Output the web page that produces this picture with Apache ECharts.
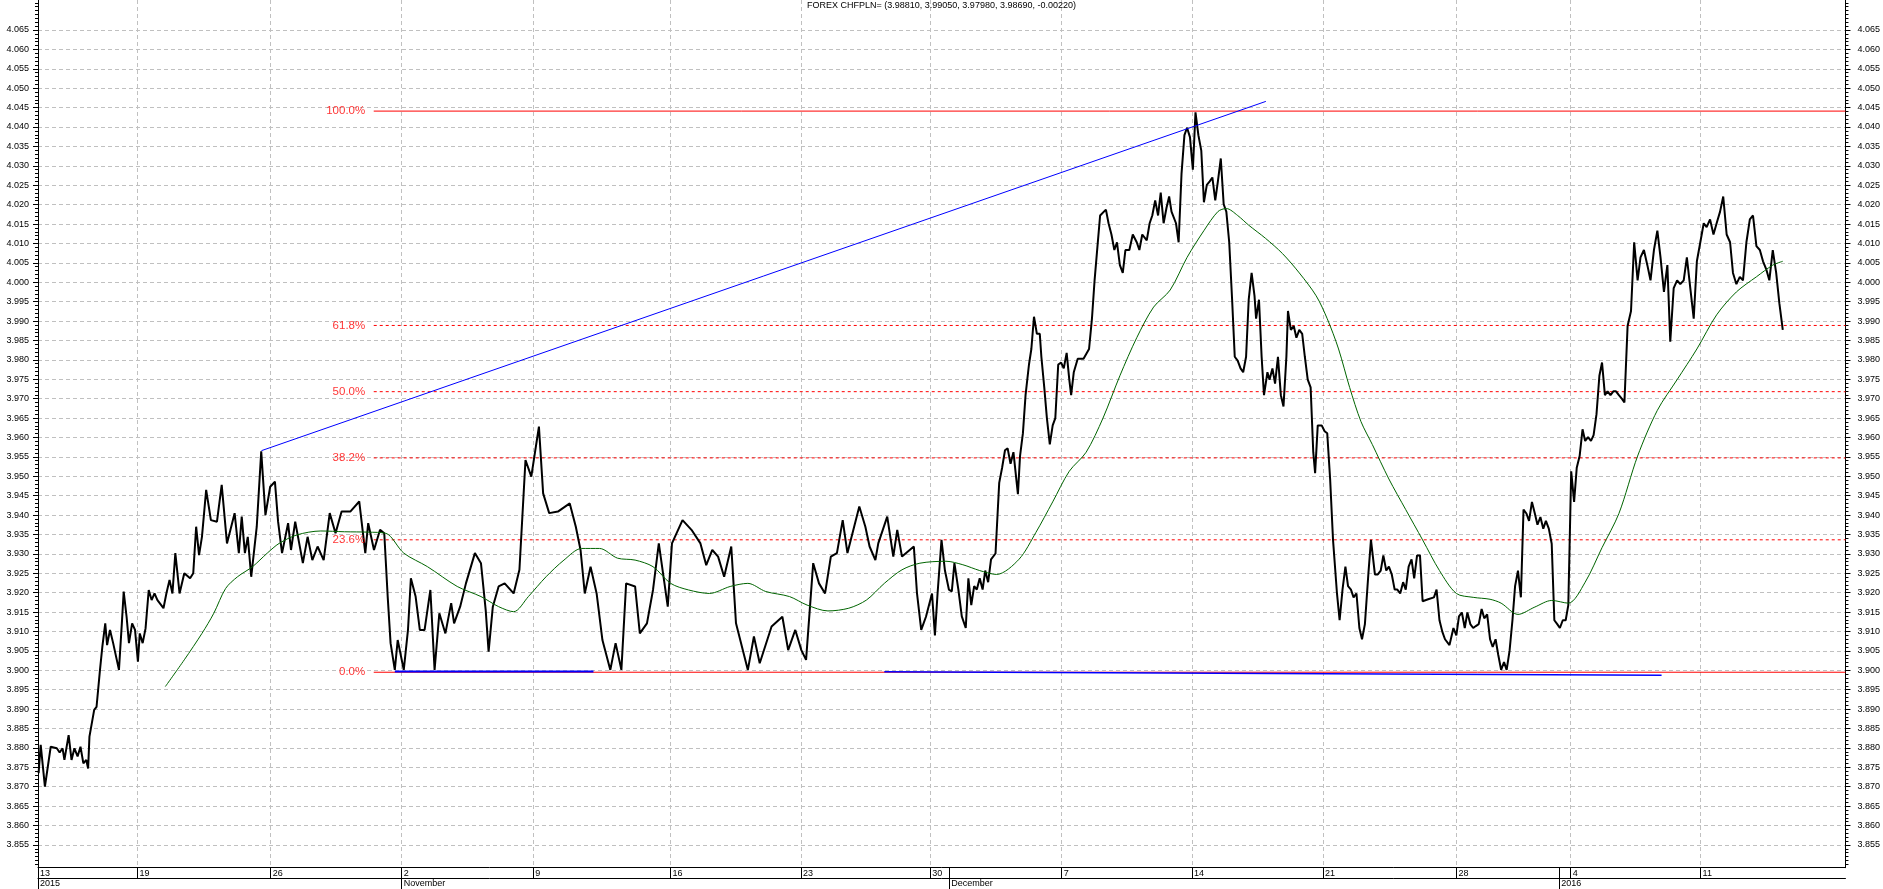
<!DOCTYPE html>
<html>
<head>
<meta charset="utf-8">
<title>FOREX CHFPLN=</title>
<script src="https://cdn.jsdelivr.net/npm/echarts@6/dist/echarts.min.js"></script>
<style>
  html, body { margin: 0; padding: 0; background: #fff; }
  #chart { width: 1883px; height: 889px; }
</style>
</head>
<body>
<div id="chart"></div>
<script>
// time axis: trading days counted from the start of Tue 13 Oct 2015 (weekends left out)
const X_MIN = 0.2275;
const X_MAX = 68.83;
const Y_MIN = 3.84913;
const Y_MAX = 4.07273;

const weekDays = [0.2275, 4.0, 9.06, 14.03, 19.02, 24.23, 29.19, 34.09, 39.08, 44.03, 49.0, 54.07, 58.4, 63.33];
const weekLabels = ["13", "19", "26", "2", "9", "16", "23", "30", "7", "14", "21", "28", "4", "11"];
const monthDays = [0.2275, 14.03, 34.81, 57.97];
const monthLabels = ["2015", "November", "December", "2016"];

const title = "FOREX CHFPLN= (3.98810, 3.99050, 3.97980, 3.98690, -0.00220)";

// hourly close
const days = [
  0.25, 0.33, 0.49, 0.71, 0.94, 1.05, 1.16, 1.23, 1.39, 1.50,
  1.61, 1.73, 1.84, 1.95, 2.06, 2.13, 2.18, 2.36, 2.45, 2.58,
  2.67, 2.78, 2.85, 2.96, 3.08, 3.30, 3.41, 3.48, 3.59, 3.68,
  3.80, 3.91, 4.02, 4.09, 4.20, 4.31, 4.43, 4.54, 4.65, 4.76,
  4.99, 5.10, 5.22, 5.33, 5.44, 5.60, 5.78, 6.00, 6.12, 6.23,
  6.34, 6.45, 6.61, 6.79, 7.02, 7.20, 7.40, 7.69, 7.85, 7.96,
  8.08, 8.19, 8.32, 8.53, 8.70, 8.86, 9.04, 9.22, 9.34, 9.49,
  9.72, 9.83, 9.99, 10.28, 10.46, 10.64, 10.84, 11.07, 11.30, 11.52,
  11.75, 12.08, 12.42, 12.65, 12.76, 12.98, 13.21, 13.37, 13.50, 13.61,
  13.77, 13.88, 14.11, 14.27, 14.38, 14.56, 14.72, 14.90, 15.12, 15.28,
  15.46, 15.69, 15.91, 16.02, 16.25, 16.47, 16.81, 17.04, 17.22, 17.33,
  17.49, 17.71, 17.94, 18.28, 18.50, 18.73, 18.95, 19.24, 19.40, 19.63,
  19.96, 20.41, 20.64, 20.82, 20.98, 21.20, 21.43, 21.65, 21.95, 22.15,
  22.37, 22.55, 22.89, 23.07, 23.34, 23.57, 23.79, 24.13, 24.29, 24.69,
  25.03, 25.37, 25.59, 25.82, 26.04, 26.27, 26.54, 26.72, 27.17, 27.40,
  27.62, 28.07, 28.48, 28.70, 28.97, 29.20, 29.38, 29.65, 29.87, 30.10,
  30.32, 30.55, 30.77, 30.95, 31.40, 31.63, 31.79, 32.01, 32.12, 32.46,
  32.69, 32.84, 33.02, 33.47, 33.59, 33.75, 33.93,
  34.16, 34.27, 34.37, 34.52, 34.65, 34.80, 34.91, 35.01, 35.16, 35.29,
  35.44, 35.54, 35.65, 35.76, 35.86, 35.97, 36.08, 36.18, 36.29, 36.40,
  36.57, 36.71, 36.82, 36.93, 37.03, 37.14, 37.25, 37.42, 37.50, 37.61,
  37.71, 37.84, 37.93, 38.03, 38.14, 38.25, 38.31, 38.42, 38.52, 38.63,
  38.74, 38.84, 38.95, 39.06, 39.16, 39.27, 39.37, 39.44, 39.54, 39.69,
  39.91, 40.12, 40.23, 40.33, 40.44, 40.54, 40.76, 40.86, 40.97, 41.08,
  41.18, 41.29, 41.40, 41.50, 41.65, 41.78, 41.93, 42.03, 42.14, 42.31,
  42.42, 42.52, 42.63, 42.74, 42.84, 42.95, 43.06, 43.16, 43.25, 43.42,
  43.52, 43.63, 43.74, 43.84, 43.95, 44.06, 44.16, 44.27, 44.38, 44.48,
  44.59, 44.70, 44.80, 44.91, 45.01, 45.12, 45.23, 45.33, 45.44, 45.55,
  45.65, 45.76, 45.87, 45.97, 46.08, 46.18, 46.29, 46.40, 46.46, 46.57,
  46.67, 46.76, 46.89, 46.97, 47.08, 47.18, 47.29, 47.40, 47.50, 47.61,
  47.67, 47.78, 47.89, 47.99, 48.10, 48.21, 48.31, 48.42, 48.53, 48.63,
  48.70, 48.80, 48.95, 49.06, 49.16, 49.27, 49.38, 49.53, 49.63, 49.74,
  49.85, 49.95, 50.06, 50.16, 50.27, 50.38, 50.48, 50.59, 50.72, 50.82,
  50.97, 51.08, 51.19, 51.29, 51.40, 51.50, 51.61, 51.72, 51.82, 51.93,
  52.04, 52.14, 52.25, 52.36, 52.46, 52.57, 52.68, 52.78, 52.99, 53.21,
  53.31, 53.42, 53.53, 53.63, 53.80, 53.95, 54.06, 54.16, 54.27, 54.38,
  54.48, 54.59, 54.70, 54.80, 54.91, 55.02, 55.12, 55.23, 55.34, 55.44,
  55.55, 55.65, 55.76, 55.87, 55.97, 56.08, 56.19, 56.29, 56.40, 56.51,
  56.61, 56.72, 56.82, 56.93, 57.04, 57.14, 57.25, 57.36, 57.46, 57.57,
  57.68, 57.78, 57.89, 57.99, 58.10, 58.21, 58.31, 58.42, 58.53, 58.63,
  58.74, 58.85, 58.95, 59.06, 59.17, 59.27, 59.38, 59.49, 59.59, 59.70,
  59.80, 59.91, 60.02, 60.12, 60.23, 60.34, 60.44, 60.56, 60.69, 60.81,
  60.94, 61.05, 61.18, 61.31, 61.43, 61.56, 61.69, 61.81, 61.94, 62.07,
  62.18, 62.31, 62.44, 62.56, 62.69, 62.81, 62.94, 63.07, 63.19, 63.32,
  63.45, 63.56, 63.69, 63.82, 63.94, 64.07, 64.19, 64.32, 64.45, 64.56,
  64.69, 64.82, 64.94, 65.07, 65.20, 65.32, 65.45, 65.58, 65.70, 65.82,
  65.94, 66.07, 66.20, 66.32, 66.45
];
const closes = [
  3.8735, 3.8808, 3.8700, 3.8803, 3.8799, 3.8788, 3.8799, 3.8769, 3.8833, 3.8769,
  3.8799, 3.8778, 3.8803, 3.8760, 3.8769, 3.8747, 3.8829, 3.8898, 3.8906, 3.9001,
  3.9061, 3.9121, 3.9065, 3.9104, 3.9070, 3.9001, 3.9121, 3.9203, 3.9138, 3.9070,
  3.9121, 3.9104, 3.9022, 3.9095, 3.9070, 3.9108, 3.9207, 3.9181, 3.9198, 3.9181,
  3.9160, 3.9198, 3.9233, 3.9198, 3.9302, 3.9198, 3.9250, 3.9237, 3.9250, 3.9370,
  3.9297, 3.9344, 3.9465, 3.9387, 3.9383, 3.9478, 3.9327, 3.9405, 3.9302, 3.9396,
  3.9302, 3.9344, 3.9241, 3.9370, 3.9564, 3.9400, 3.9473, 3.9486, 3.9383, 3.9302,
  3.9379, 3.9310, 3.9383, 3.9276, 3.9344, 3.9284, 3.9319, 3.9284, 3.9405, 3.9353,
  3.9409, 3.9409, 3.9435, 3.9302, 3.9379, 3.9310, 3.9362, 3.9353, 3.9190, 3.9070,
  3.9001, 3.9078, 3.9001, 3.9104, 3.9237, 3.9190, 3.9104, 3.9104, 3.9207, 3.9001,
  3.9147, 3.9095, 3.9173, 3.9121, 3.9164, 3.9224, 3.9302, 3.9276, 3.9155, 3.9048,
  3.9164, 3.9216, 3.9224, 3.9198, 3.9259, 3.9542, 3.9499, 3.9628, 3.9456, 3.9405,
  3.9409, 3.9430, 3.9370, 3.9310, 3.9198, 3.9267, 3.9198, 3.9078, 3.9001, 3.9070,
  3.9001, 3.9224, 3.9216, 3.9095, 3.9121, 3.9207, 3.9327, 3.9164, 3.9327, 3.9387,
  3.9362, 3.9327, 3.9271, 3.9310, 3.9293, 3.9241, 3.9319, 3.9121, 3.9001, 3.9087,
  3.9018, 3.9113, 3.9138, 3.9052, 3.9104, 3.9052, 3.9027, 3.9276, 3.9224, 3.9198,
  3.9293, 3.9302, 3.9387, 3.9302, 3.9422, 3.9370, 3.9319, 3.9284, 3.9327, 3.9396,
  3.9293, 3.9362, 3.9293, 3.9319, 3.9198, 3.9104, 3.9138,
  3.9198, 3.9090, 3.9198, 3.9336, 3.9257, 3.9208, 3.9203, 3.9276, 3.9208, 3.9139,
  3.9109, 3.9237, 3.9168, 3.9217, 3.9208, 3.9237, 3.9208, 3.9257, 3.9227, 3.9286,
  3.9301, 3.9483, 3.9522, 3.9567, 3.9572, 3.9532, 3.9562, 3.9454, 3.9552, 3.9611,
  3.9709, 3.9788, 3.9828, 3.9911, 3.9867, 3.9867, 3.9808, 3.9729, 3.9650, 3.9582,
  3.9631, 3.9650, 3.9788, 3.9793, 3.9778, 3.9818, 3.9749, 3.9709, 3.9768, 3.9803,
  3.9803, 3.9828, 3.9906, 4.0005, 4.0093, 4.0172, 4.0187, 4.0152, 4.0123, 4.0083,
  4.0103, 4.0044, 4.0024, 4.0083, 4.0083, 4.0123, 4.0103, 4.0083, 4.0123, 4.0108,
  4.0152, 4.0172, 4.0211, 4.0172, 4.0231, 4.0152, 4.0192, 4.0221, 4.0182, 4.0152,
  4.0103, 4.0280, 4.0379, 4.0398, 4.0374, 4.0290, 4.0438, 4.0379, 4.0339, 4.0206,
  4.0251, 4.0260, 4.0270, 4.0211, 4.0260, 4.0319, 4.0201, 4.0182, 4.0103, 3.9955,
  3.9808, 3.9798, 3.9778, 3.9768, 3.9808, 3.9955, 4.0024, 3.9965, 3.9906, 3.9955,
  3.9808, 3.9709, 3.9768, 3.9749, 3.9778, 3.9739, 3.9808, 3.9709, 3.9680, 3.9808,
  3.9926, 3.9877, 3.9887, 3.9857, 3.9877, 3.9867, 3.9808, 3.9749, 3.9729, 3.9562,
  3.9508, 3.9631, 3.9631, 3.9616, 3.9611, 3.9493, 3.9336, 3.9198, 3.9129, 3.9208,
  3.9267, 3.9217, 3.9208, 3.9188, 3.9198, 3.9109, 3.9080, 3.9119, 3.9247, 3.9336,
  3.9247, 3.9247, 3.9257, 3.9296, 3.9257, 3.9267, 3.9247, 3.9208, 3.9208, 3.9198,
  3.9227, 3.9208, 3.9267, 3.9286, 3.9237, 3.9296, 3.9296, 3.9178, 3.9183, 3.9188,
  3.9208, 3.9129, 3.9099, 3.9080, 3.9065, 3.9109, 3.9090, 3.9139, 3.9149, 3.9109,
  3.9149, 3.9119, 3.9109, 3.9114, 3.9119, 3.9158, 3.9134, 3.9144, 3.9080, 3.9060,
  3.9080, 3.9040, 3.9001, 3.9021, 3.9001, 3.9050, 3.9129, 3.9217, 3.9257, 3.9188,
  3.9414, 3.9404, 3.9385, 3.9434, 3.9404, 3.9375, 3.9395, 3.9365, 3.9385, 3.9365,
  3.9326, 3.9129, 3.9119, 3.9109, 3.9129, 3.9129, 3.9168, 3.9513, 3.9434, 3.9522,
  3.9552, 3.9621, 3.9591, 3.9601, 3.9591, 3.9606, 3.9660, 3.9759, 3.9793, 3.9709,
  3.9719, 3.9709, 3.9719, 3.9719, 3.9709, 3.9700, 3.9690, 3.9887, 3.9926, 4.0103,
  4.0005, 4.0064, 4.0083, 4.0044, 4.0005, 4.0083, 4.0133, 4.0064, 3.9975, 4.0044,
  3.9847, 3.9985, 4.0005, 3.9995, 4.0005, 4.0064, 3.9985, 3.9906, 4.0054, 4.0103,
  4.0152, 4.0142, 4.0162, 4.0123, 4.0152, 4.0182, 4.0221, 4.0123, 4.0103, 4.0024,
  3.9995, 4.0014, 4.0005, 4.0103, 4.0162, 4.0172, 4.0093, 4.0083, 4.0054, 4.0034,
  4.0005, 4.0083, 4.0024, 3.9946, 3.9877
];

// moving average (green)
const maDays = [
  5.06, 5.78, 6.45, 6.9, 7.35, 7.8, 8.37, 8.93, 9.38, 10.06,
  10.96, 11.86, 12.76, 13.43, 14.11, 15.01, 16.14, 17.04, 17.71, 18.28,
  18.84, 19.51, 20.19, 20.86, 21.54, 22.22, 22.89, 23.57, 24.24, 24.92,
  25.71, 26.5, 27.17, 27.85, 28.75, 29.42, 30.21, 31.0, 31.67, 32.35,
  33.02, 33.7, 34.69, 35.33, 35.97, 36.61, 37.46, 38.1, 38.74, 39.37,
  40.01, 40.65, 41.29, 41.93, 42.57, 43.2, 43.84, 44.48, 45.01, 45.33,
  45.76, 46.18, 46.82, 47.46, 48.1, 48.74, 49.16, 49.59, 50.01, 50.44,
  50.87, 51.5, 52.14, 52.78, 53.42, 54.06, 54.7, 55.34, 55.76, 56.4,
  57.04, 57.68, 58.31, 58.95, 59.59, 60.23, 60.94, 61.69, 62.44, 63.19,
  63.94, 64.69, 65.45, 66.07, 66.45
];
const maValues = [
  3.8958, 3.9027, 3.9095, 3.9147, 3.9211, 3.9241, 3.9267, 3.9302, 3.9327, 3.9349,
  3.9359, 3.9357, 3.9356, 3.9353, 3.9302, 3.9267, 3.9216, 3.9190, 3.9164, 3.9151,
  3.9190, 3.9241, 3.9284, 3.9314, 3.9314, 3.9289, 3.9284, 3.9267, 3.9224, 3.9207,
  3.9198, 3.9216, 3.9224, 3.9203, 3.9190, 3.9168, 3.9153, 3.9160, 3.9181, 3.9224,
  3.9259, 3.9276, 3.9281, 3.9272, 3.9257, 3.9247, 3.9286, 3.9355, 3.9434, 3.9513,
  3.9562, 3.9650, 3.9759, 3.9857, 3.9936, 3.9980, 4.0064, 4.0133, 4.0182, 4.0190,
  4.0172, 4.0147, 4.0113, 4.0074, 4.0024, 3.9965, 3.9906, 3.9828, 3.9729, 3.9641,
  3.9582, 3.9493, 3.9414, 3.9336, 3.9257, 3.9198, 3.9188, 3.9183, 3.9173, 3.9144,
  3.9163, 3.9180, 3.9173, 3.9227, 3.9316, 3.9404, 3.9552, 3.9670, 3.9749, 3.9828,
  3.9916, 3.9975, 4.0014, 4.0044, 4.0054
];

// fibonacci retracement between the low and the high
const fibLow = 3.8995;
const fibHigh = 4.0441;
const fibLevels = [0, 23.6, 38.2, 50, 61.8, 100];
const fibStart = 12.97;

// drawn trend lines: [day, price] pairs
const trendUp = [[8.71, 3.9566], [46.83, 4.0466]];
const supportA = [[13.77, 3.8997], [21.31, 3.8997]];
const supportB = [[32.35, 3.8996], [61.85, 3.8987]];

const font = '"Liberation Sans", Arial, sans-serif';

let yMajor = [];
for (let i = 0; i <= 42; i++) yMajor.push(Math.round((3.855 + i * 0.005) * 1000) / 1000);
let yMinor = [];
for (let i = 0; i <= 222; i++) yMinor.push(Math.round((3.85 + i * 0.001) * 1000) / 1000);

function pickLabel(pos, labels) {
  return function (v) {
    let best = 0;
    for (let i = 1; i < pos.length; i++) {
      if (Math.abs(pos[i] - v) < Math.abs(pos[best] - v)) best = i;
    }
    return labels[best];
  };
}

let myChart = echarts.init(document.getElementById("chart"));

const blackLine = { color: "#000", width: 1 };
const gridLine = { color: "#c0c0c0", width: 1, type: [4, 3] };

let xBase = {
  type: "value",
  min: X_MIN,
  max: X_MAX,
  position: "bottom",
  axisLine: { show: true, onZero: false, lineStyle: blackLine },
  splitLine: { show: false },
};

let yLeftMajor = {
  type: "value",
  min: Y_MIN,
  max: Y_MAX,
  position: "left",
  axisLine: { show: true, onZero: false, lineStyle: blackLine },
  axisTick: { show: true, length: 5, customValues: yMajor, lineStyle: blackLine },
  axisLabel: {
    customValues: yMajor,
    formatter: (v) => v.toFixed(3),
    margin: 9,
    fontSize: 9,
    fontFamily: font,
    color: "#000",
  },
  splitLine: { show: true, lineStyle: gridLine },
};
let yLeftMinor = {
  type: "value",
  min: Y_MIN,
  max: Y_MAX,
  position: "left",
  axisLine: { show: false },
  axisTick: { show: true, length: 3, customValues: yMinor, lineStyle: blackLine },
  axisLabel: { show: false },
  splitLine: { show: false },
};

let fibSeries = fibLevels.map((lvl) => {
  const v = fibLow + ((fibHigh - fibLow) * lvl) / 100;
  const solid = lvl === 0 || lvl === 100;
  return {
    type: "line",
    data: [[fibStart, v], [X_MAX, v]],
    symbol: "none",
    silent: true,
    z: 1,
    lineStyle: { color: "#ff0000", width: 1, type: solid ? "solid" : [3, 3] },
  };
});

let fibLabels = {
  type: "scatter",
  data: fibLevels.map((lvl) => [fibStart, fibLow + ((fibHigh - fibLow) * lvl) / 100, lvl.toFixed(1) + "%"]),
  symbolSize: 1,
  itemStyle: { color: "rgba(0,0,0,0)" },
  silent: true,
  z: 5,
  label: {
    show: true,
    position: "left",
    distance: 8,
    formatter: (p) => p.value[2],
    color: "#ff0000",
    fontSize: 11.5,
    fontFamily: font,
  },
};

let option = {
  animation: false,
  backgroundColor: "#fff",
  title: {
    text: title,
    left: "center",
    top: 1,
    padding: 0,
    textStyle: { fontSize: 9, fontWeight: "normal", color: "#000", fontFamily: font },
  },
  grid: { left: 38, right: 36, top: 0, bottom: 21.3 },
  xAxis: [
    Object.assign({}, xBase, {
      axisTick: {
        show: true,
        length: 10.6,
        customValues: weekDays.concat([monthDays[2], monthDays[3]]),
        lineStyle: blackLine,
      },
      axisLabel: {
        customValues: weekDays,
        formatter: pickLabel(weekDays, weekLabels),
        align: "left",
        verticalAlign: "top",
        margin: 0.5,
        padding: [0, 0, 0, 2],
        lineHeight: 10,
        fontSize: 9,
        fontFamily: font,
        color: "#000",
      },
    }),
    Object.assign({}, xBase, {
      offset: 10.6,
      axisTick: { show: true, length: 11, customValues: monthDays, lineStyle: blackLine },
      axisLabel: {
        customValues: monthDays,
        formatter: pickLabel(monthDays, monthLabels),
        align: "left",
        verticalAlign: "top",
        margin: 0.5,
        padding: [0, 0, 0, 2],
        lineHeight: 10,
        fontSize: 9,
        fontFamily: font,
        color: "#000",
      },
    }),
    Object.assign({}, xBase, {
      axisLine: { show: false, onZero: false },
      axisTick: { show: false, customValues: weekDays.slice(1) },
      axisLabel: { show: false },
      splitLine: { show: true, lineStyle: gridLine },
    }),
  ],
  yAxis: [
    yLeftMajor,
    yLeftMinor,
    Object.assign({}, yLeftMajor, {
      position: "right",
      splitLine: { show: false },
      axisLabel: Object.assign({}, yLeftMajor.axisLabel, { margin: 12 }),
    }),
    Object.assign({}, yLeftMinor, { position: "right" }),
  ],
  series: fibSeries.concat([
    {
      type: "line",
      data: supportA,
      symbol: "none",
      silent: true,
      z: 2,
      lineStyle: { color: "#0000ff", width: 2 },
    },
    {
      type: "line",
      data: supportB,
      symbol: "none",
      silent: true,
      z: 2,
      lineStyle: { color: "#0000ff", width: 1.5 },
    },
    {
      type: "line",
      name: "CHFPLN",
      data: closes.map((c, i) => [days[i], c]),
      symbol: "none",
      silent: true,
      z: 3,
      lineStyle: { color: "#000", width: 2 },
    },
    {
      type: "line",
      name: "MA",
      data: maValues.map((m, i) => [maDays[i], m]),
      symbol: "none",
      smooth: 0.3,
      silent: true,
      z: 4,
      lineStyle: { color: "#006400", width: 1 },
    },
    {
      type: "line",
      data: trendUp,
      symbol: "none",
      silent: true,
      z: 4,
      lineStyle: { color: "#0000ff", width: 1 },
    },
    fibLabels,
  ]),
};
myChart.setOption(option);
</script>
</body>
</html>
